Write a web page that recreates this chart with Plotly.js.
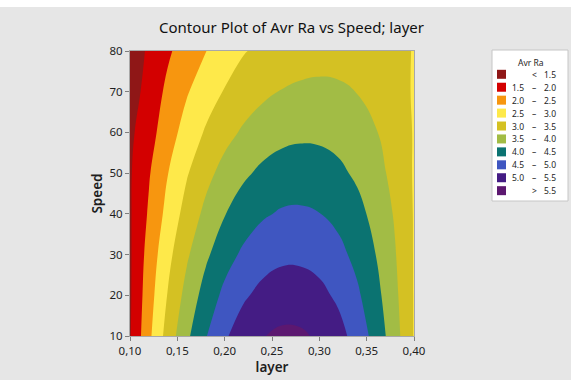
<!DOCTYPE html>
<html>
<head>
<meta charset="utf-8">
<script src="https://cdn.plot.ly/plotly-3.0.1.min.js"></script>
<style>
  html, body { margin: 0; padding: 0; background: #e6e6e6; }
  #chart { width: 571px; height: 380px; }
</style>
</head>
<body>
<div id="chart"></div>
<script>
// Grid of the response surface: layer (columns) by Speed (rows)
const layer = [0.10, 0.12, 0.14, 0.16, 0.18, 0.20, 0.22, 0.24, 0.26, 0.28, 0.30, 0.32, 0.34, 0.36, 0.38, 0.40];
const speed = [10, 20, 30, 40, 50, 60, 70, 80];

// Avr Ra along each Speed row
const ra10 = [1.46, 2.39, 3.21, 3.90, 4.47, 4.93, 5.27, 5.48, 5.59, 5.57, 5.43, 5.18, 4.80, 4.31, 3.70, 2.97];
const ra20 = [1.44, 2.29, 3.03, 3.67, 4.20, 4.62, 4.93, 5.14, 5.24, 5.24, 5.13, 4.91, 4.58, 4.15, 3.61, 2.97];
const ra30 = [1.44, 2.19, 2.86, 3.43, 3.91, 4.30, 4.59, 4.79, 4.90, 4.90, 4.82, 4.64, 4.36, 3.99, 3.53, 2.97];
const ra40 = [1.45, 2.06, 2.66, 3.19, 3.62, 3.98, 4.25, 4.44, 4.55, 4.57, 4.51, 4.37, 4.15, 3.84, 3.45, 2.97];
const ra50 = [1.45, 1.96, 2.49, 2.96, 3.35, 3.67, 3.92, 4.10, 4.21, 4.24, 4.21, 4.10, 3.92, 3.67, 3.35, 2.96];
const ra60 = [1.40, 1.81, 2.28, 2.70, 3.05, 3.34, 3.57, 3.75, 3.86, 3.91, 3.90, 3.84, 3.71, 3.52, 3.27, 2.97];
const ra70 = [1.25, 1.70, 2.11, 2.46, 2.77, 3.03, 3.24, 3.40, 3.52, 3.58, 3.60, 3.57, 3.49, 3.36, 3.18, 2.96];
const ra80 = [1.20, 1.58, 1.93, 2.23, 2.49, 2.75, 2.97, 3.11, 3.22, 3.29, 3.33, 3.33, 3.30, 3.22, 3.11, 2.98];

// Contour levels and the fill colour of each band (lowest band first)
const levels = [1.5, 2.0, 2.5, 3.0, 3.5, 4.0, 4.5, 5.0, 5.5];
const bandColors = ['#8f1717', '#d30000', '#f7960f', '#fee94a', '#d4c123', '#a2bc45',
                    '#0b7371', '#3f56c1', '#441c84', '#5c1870'];

const xTicks = [0.10, 0.15, 0.20, 0.25, 0.30, 0.35, 0.40];
const yTicks = [10, 20, 30, 40, 50, 60, 70, 80];

const z = [ra10, ra20, ra30, ra40, ra50, ra60, ra70, ra80];
const step = levels[1] - levels[0];
const colorscale = bandColors.map((c, i) => [i / (bandColors.length - 1), c]);

const W = 571, H = 380;
const M = { l: 130, r: 157, t: 51, b: 44 };
const plotW = W - M.l - M.r, plotH = H - M.t - M.b;
// pixel -> paper coordinates, for the legend box drawn beside the plot
const px = x => (x - M.l) / plotW;
const py = y => (H - M.b - y) / plotH;

const font = '"Noto Sans", "Open Sans", sans-serif';

const trace = {
  type: 'contour',
  x: layer,
  y: speed,
  z: z,
  autocontour: false,
  contours: { start: levels[0], end: levels[levels.length - 1], size: step,
              coloring: 'fill', showlines: false },
  line: { width: 0, smoothing: 1.3 },
  colorscale: colorscale,
  showscale: false,
  hoverinfo: 'skip'
};

// Legend: swatches and range labels
const shapes = [{
  type: 'rect', xref: 'paper', yref: 'paper',
  x0: px(492), x1: px(568), y0: py(50), y1: py(201),
  fillcolor: '#ffffff', line: { color: '#c6c6c6', width: 1 }, layer: 'above'
}, {
  type: 'rect', xref: 'paper', yref: 'paper',
  x0: px(-5), x1: px(W + 5), y0: py(7), y1: py(-5),
  fillcolor: '#ffffff', line: { width: 0 }, layer: 'above'
}];
const annotations = [{
  xref: 'paper', yref: 'paper', x: px(531), y: py(62), xanchor: 'center', yanchor: 'middle',
  text: 'Avr Ra', showarrow: false, font: { family: font, size: 8.5, color: '#1e1e1e' }
}];
const labelFont = { family: font, size: 8.5, color: '#1e1e1e' };
bandColors.forEach((c, i) => {
  const yc = 74.3 + i * 12.93;
  shapes.push({
    type: 'rect', xref: 'paper', yref: 'paper',
    x0: px(497), x1: px(506), y0: py(yc + 4.5), y1: py(yc - 4.5),
    fillcolor: c, line: { width: 0 }, layer: 'above'
  });
  let left = '', mid = '', right = '';
  if (i === 0) { mid = '<'; right = levels[0].toFixed(1); }
  else if (i === bandColors.length - 1) { mid = '>'; right = levels[levels.length - 1].toFixed(1); }
  else { left = levels[i - 1].toFixed(1); mid = '\u2013'; right = levels[i].toFixed(1); }
  if (left) annotations.push({ xref: 'paper', yref: 'paper', x: px(525.5), y: py(yc),
    xanchor: 'right', yanchor: 'middle', text: left, showarrow: false, font: labelFont });
  annotations.push({ xref: 'paper', yref: 'paper', x: px(534), y: py(yc),
    xanchor: 'center', yanchor: 'middle', text: mid, showarrow: false, font: labelFont });
  annotations.push({ xref: 'paper', yref: 'paper', x: px(557.5), y: py(yc),
    xanchor: 'right', yanchor: 'middle', text: right, showarrow: false, font: labelFont });
});

const layout = {
  width: W, height: H,
  margin: M,
  paper_bgcolor: '#e6e6e6',
  plot_bgcolor: '#e6e6e6',
  separators: ',.',
  font: { family: font, color: '#1e1e1e' },
  title: {
    text: 'Contour Plot of Avr Ra vs Speed; layer',
    x: 291.5 / W, xanchor: 'center', xref: 'container',
    y: 1 - 28 / H, yanchor: 'middle', yref: 'container',
    font: { family: font, size: 15, color: '#111111' }
  },
  xaxis: {
    range: [layer[0], layer[layer.length - 1]],
    tickvals: xTicks, tickformat: '.2f',
    ticks: 'outside', ticklen: 4, tickcolor: '#7f7f7f',
    showline: true, linecolor: '#a8a8a8', linewidth: 1, mirror: true,
    showgrid: false, zeroline: false,
    tickfont: { family: font, size: 11.5, color: '#1e1e1e' },
    title: { text: 'layer', standoff: 4, font: { family: font, size: 13.5, color: '#1e1e1e', weight: 600 } }
  },
  yaxis: {
    range: [speed[0], speed[speed.length - 1]],
    tickvals: yTicks,
    ticks: 'outside', ticklen: 4, tickcolor: '#7f7f7f',
    showline: true, linecolor: '#a8a8a8', linewidth: 1, mirror: true,
    showgrid: false, zeroline: false,
    tickfont: { family: font, size: 11.5, color: '#1e1e1e' },
    title: { text: 'Speed', standoff: 3, font: { family: font, size: 13.5, color: '#1e1e1e', weight: 600 } }
  },
  shapes: shapes,
  annotations: annotations,
  showlegend: false
};

Plotly.newPlot('chart', [trace], layout, { staticPlot: true, displayModeBar: false });
</script>
</body>
</html>
